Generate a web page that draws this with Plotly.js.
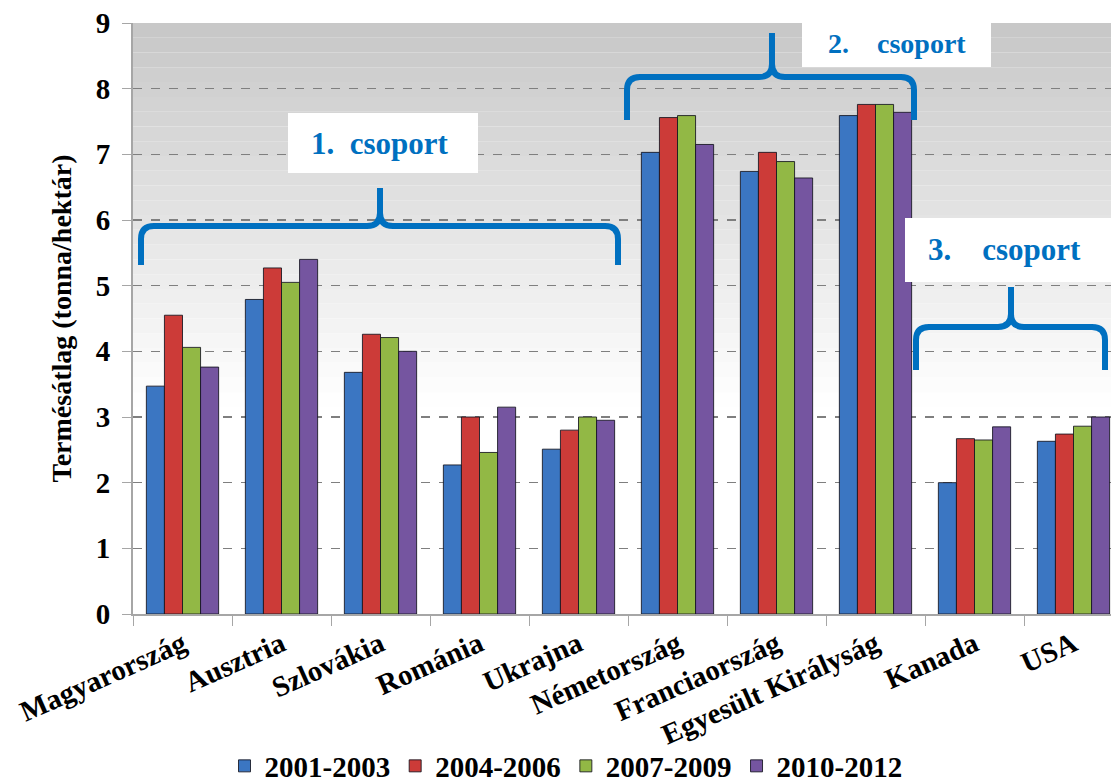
<!DOCTYPE html>
<html>
<head>
<meta charset="utf-8">
<script src="https://cdn.plot.ly/plotly-3.0.1.min.js"></script>
<style>html,body{margin:0;padding:0;background:#fff;}#chart{width:1111px;height:782px;}</style>
</head>
<body>
<div id="chart"></div>
<script>
// ---- data ----
const categories = ["Magyarország","Ausztria","Szlovákia","Románia","Ukrajna","Németország","Franciaország","Egyesült Királyság","Kanada","USA"];
const seriesNames = ["2001-2003","2004-2006","2007-2009","2010-2012"];
const v2001_2003 = [3.47,4.79,3.68,2.27,2.51,7.03,6.74,7.59,2.00,2.63];
const v2004_2006 = [4.55,5.27,4.26,3.00,2.80,7.56,7.03,7.76,2.67,2.74];
const v2007_2009 = [4.06,5.05,4.21,2.46,3.00,7.59,6.89,7.76,2.65,2.86];
const v2010_2012 = [3.76,5.40,4.00,3.15,2.95,7.15,6.64,7.64,2.85,3.00];
const yTitle = "Termésátlag (tonna/hektár)";
const groupLabels = ["1.\u00a0\u00a0csoport","2.\u00a0\u00a0\u00a0\u00a0csoport","3.\u00a0\u00a0\u00a0\u00a0csoport"];

// ---- layout geometry ----
const W = 1111, H = 782;
const M = {l:133, r:0, t:23, b:168, autoexpand:false};
const PW = W - M.l - M.r, PH = H - M.t - M.b;
const px = x => (x - M.l) / PW;
const py = y => (H - M.b - y) / PH;
const font = "Liberation Serif";
const colors = ["#3b76c2","#cc3b38","#92b845","#7555a0"];
const values = [v2001_2003, v2004_2006, v2007_2009, v2010_2012];

const traces = values.map((v,i) => ({
  type: "bar", name: "<b>"+seriesNames[i]+"</b>", x: categories, y: v,
  marker: {color: colors[i], line: {color: "rgba(20,20,30,0.85)", width: 1}},
  hoverinfo: "x+y+name"
}));

const shapes = [];
const nb = 40;
for (let k = 0; k < nb; k++) {
  const t = k / (nb - 1);
  const g = Math.round(Math.min(255, 200 + (255 - 200) * Math.min(1, t / 0.65)));
  shapes.push({type:"rect", xref:"paper", yref:"paper", layer:"below",
    x0:0, x1:1, y0:1 - (k+1)/nb, y1:1 - k/nb, line:{width:0},
    fillcolor:`rgb(${g},${g},${g})`});
}
function bracket(x0, x1, xc, yb, yh, yp, r) {
  const P = (x,y) => px(x).toFixed(5) + "," + py(y).toFixed(5);
  return "M" + P(x0,yb) + " L" + P(x0,yh+r) + " Q" + P(x0,yh) + " " + P(x0+r,yh) +
    " L" + P(xc-r,yh) + " Q" + P(xc,yh) + " " + P(xc,yh-r) + " L" + P(xc,yp) +
    " M" + P(xc,yh-r) + " Q" + P(xc,yh) + " " + P(xc+r,yh) +
    " L" + P(x1-r,yh) + " Q" + P(x1,yh) + " " + P(x1,yh+r) + " L" + P(x1,yb);
}
const bcol = "#0070c0";
[[141,618,380,265,226,188,13],[627,914,772,120,77,33,13],[916,1105,1011,370,327,287,13]].forEach(b => {
  shapes.push({type:"path", xref:"paper", yref:"paper", layer:"above",
    path: bracket(...b), line:{color:bcol, width:6}});
});
[[288,478,113,173],[802,991,19,67],[905,1111,218,282]].forEach(r => {
  shapes.push({type:"rect", xref:"paper", yref:"paper", layer:"above",
    x0:px(r[0]), x1:px(r[1]), y0:py(r[3]), y1:py(r[2]), fillcolor:"#ffffff", line:{width:0}});
});
const annotations = [[380,143,31],[897,43,28],[1004,250,31]].map((a,i) => ({
  xref:"paper", yref:"paper", x:px(a[0]), y:py(a[1]), xanchor:"center", yanchor:"middle",
  showarrow:false, text:"<b>"+groupLabels[i]+"</b>",
  font:{family:font, size:a[2], color:bcol}
}));

const layout = {
  width: W, height: H,
  margin: M,
  font: {family: font},
  paper_bgcolor: "#ffffff",
  plot_bgcolor: "rgba(0,0,0,0)",
  barmode: "group", bargap: 0.27, bargroupgap: 0,
  showlegend: true,
  legend: {orientation:"h", x:px(566), xanchor:"center", y:py(766), yanchor:"middle",
    bgcolor:"rgba(0,0,0,0)",
    font:{family:font, size:29, color:"#000"}, itemwidth:30, traceorder:"normal"},
  xaxis: {type:"category", range:[-0.5, -0.5 + PW/99], automargin:false,
    showline:true, linecolor:"#a6a6a6", linewidth:2,
    ticks:"outside", tickson:"boundaries", ticklen:10, tickcolor:"#a6a6a6",
    tickangle:-24, tickfont:{family:font, size:29, color:"#000"}, showgrid:false, fixedrange:true,
    tickvals: categories, ticktext: categories.map(c => "<b>"+c+"</b>")},
  yaxis: {range:[0,9], automargin:false, showline:true, linecolor:"#a6a6a6", linewidth:2,
    ticks:"outside", ticklen:9, tickcolor:"#a6a6a6", ticklabelstandoff:6,
    tickfont:{family:font, size:29, color:"#000"},
    tickvals:[0,1,2,3,4,5,6,7,8,9], ticktext:[0,1,2,3,4,5,6,7,8,9].map(v => "<b>"+v+"</b>"),
    showgrid:true, gridcolor:"#7f7f7f", gridwidth:1.5, griddash:"dash", zeroline:false,
    title:{text:"<b>"+yTitle+"</b>", font:{family:font, size:28, color:"#000"}, standoff:16}},
  shapes: shapes, annotations: annotations
};
Plotly.newPlot("chart", traces, layout, {displayModeBar:false, staticPlot:true});
</script>
</body>
</html>
